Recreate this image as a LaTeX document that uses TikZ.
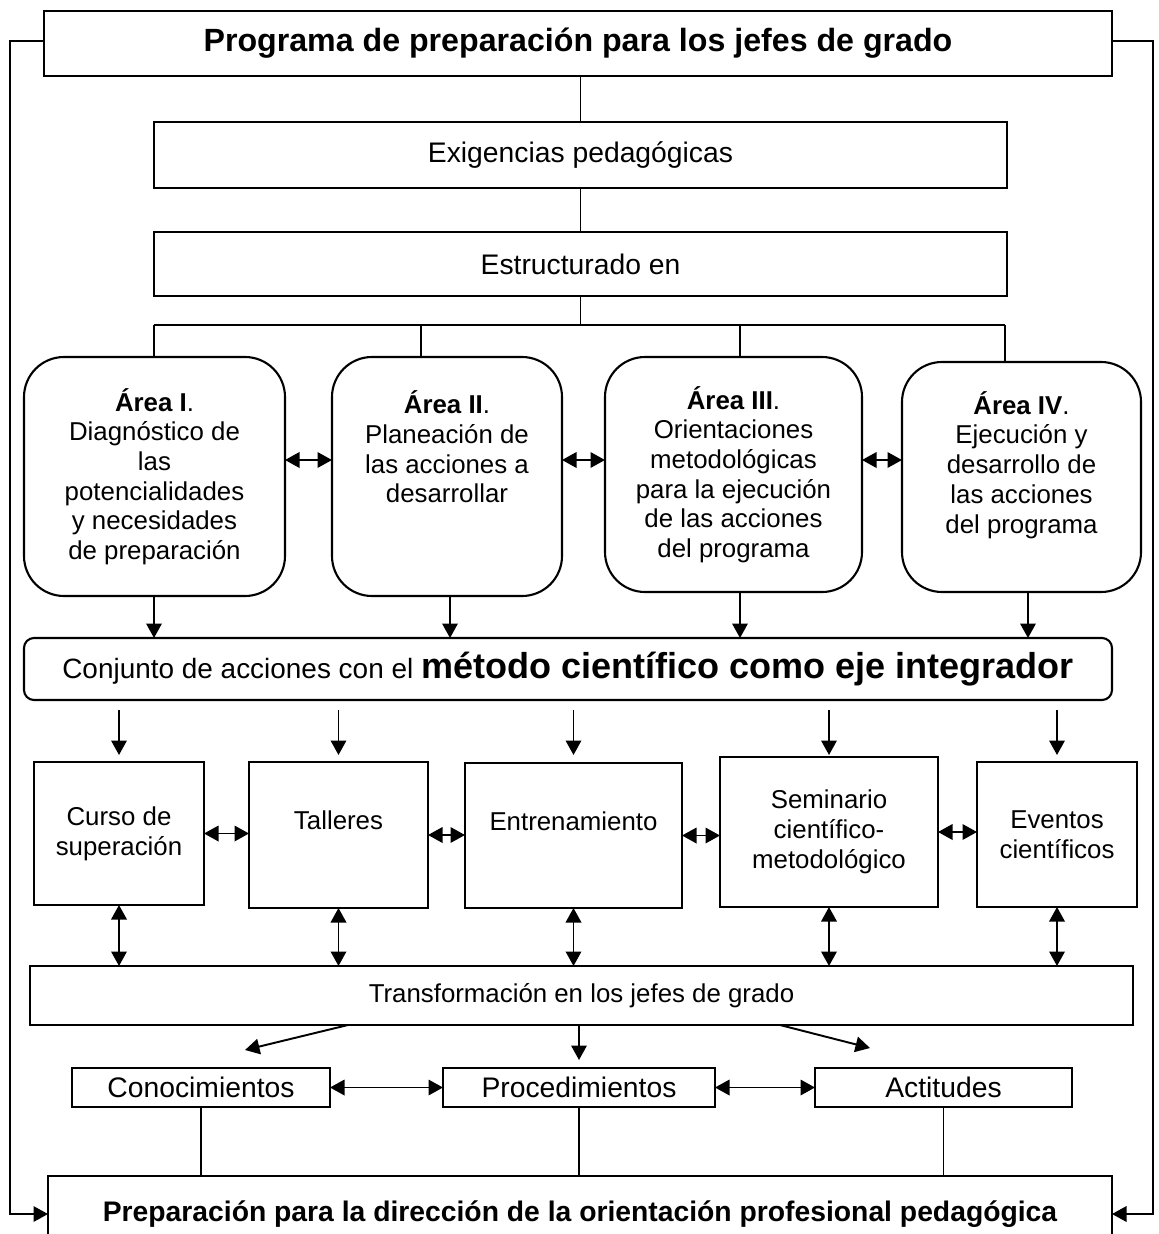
\documentclass[tikz,border=0pt]{standalone}
\usepackage{fontspec}
\setmainfont{Liberation Sans}
\usepackage{tikz}
\usetikzlibrary{arrows.meta,positioning}

\newcommand{\txtA}{\fontsize{14.7}{16.9}\selectfont}
\newcommand{\txtB}{\fontsize{16.1}{18.5}\selectfont}

\begin{document}
\begin{tikzpicture}[
  box/.style={draw, line width=1.2pt, align=center, inner sep=0pt, outer sep=0pt},
  area/.style={box, rounded corners=0.8cm, font=\txtA},
  act/.style={box, font=\txtA},
  arr/.style={-{Triangle[length=2.9mm,width=3.1mm]}, line width=1.1pt},
  darr/.style={{Triangle[length=2.9mm,width=3.1mm]}-{Triangle[length=2.9mm,width=3.1mm]}, line width=1.1pt},
  ln/.style={line width=1.1pt}
]
\useasboundingbox (0,0) rectangle (23.18,-24.68);
\clip (0,0) rectangle (23.18,-24.68);

% top of the scheme
\node[box, minimum width=21.36cm, minimum height=1.30cm, font=\fontsize{18.3}{21}\selectfont\bfseries] (prog) at (11.56,-0.87) {Programa de preparación para los jefes de grado};
\node[box, minimum width=17.06cm, minimum height=1.32cm, font=\txtB] (exig) at (11.61,-3.10) {Exigencias pedagógicas};
\node[box, minimum width=17.06cm, minimum height=1.28cm, font=\txtB] (estr) at (11.61,-5.28) {Estructurado en};
\draw[ln] (prog.south -| exig.north) -- (exig.north);
\draw[ln] (exig) -- (estr);

% areas
\node[area, minimum width=5.22cm, minimum height=4.78cm] (a1) at (3.09,-9.53) {\textbf{Área I}.\\Diagnóstico de\\las\\potencialidades\\y necesidades\\de preparación};
\node[area, minimum width=4.60cm, minimum height=4.78cm] (a2) at (8.94,-9.53) {\textbf{Área II}.\\Planeación de\\las acciones a\\desarrollar\\~\\~};
\node[area, minimum width=5.14cm, minimum height=4.70cm] (a3) at (14.67,-9.49) {\textbf{Área III}.\\Orientaciones\\metodológicas\\para la ejecución\\de las acciones\\del programa};
\node[area, minimum width=4.78cm, minimum height=4.60cm] (a4) at (20.43,-9.54) {\textbf{Área IV}.\\Ejecución y\\desarrollo de\\las acciones\\del programa\\~};

\coordinate (busL) at (3.08,-6.50);
\coordinate (busR) at (20.10,-6.50);
\draw[ln] (estr.south) -- (estr.south |- busL);
\draw[ln] (busL) -- (busR);
\foreach \x/\a in {3.08/a1, 8.42/a2, 14.80/a3, 20.10/a4}
  \draw[ln] (\x,-6.50) -- (\x,-6.50 |- \a.north);

\draw[darr] ([yshift=0.33cm]a1.east) -- ([yshift=0.33cm]a1.east -| a2.west);
\draw[darr] ([yshift=0.33cm]a2.east) -- ([yshift=0.33cm]a2.east -| a3.west);
\draw[darr] ([yshift=0.29cm]a3.east) -- ([yshift=0.29cm]a3.east -| a4.west);

% actions
\node[box, rounded corners=0.2cm, minimum width=21.76cm, minimum height=1.24cm] (conj) at (11.36,-13.38) {\fontsize{15.9}{18}\selectfont Conjunto de acciones con el \fontsize{20.5}{23}\selectfont\bfseries método científico como eje integrador};
\foreach \x/\a in {3.08/a1, 9.00/a2, 14.80/a3, 20.56/a4}
  \draw[arr] (\x,0 |- \a.south) -- (\x,0 |- conj.north);

\node[act, minimum width=3.40cm, minimum height=2.86cm] (c1) at (2.38,-16.67) {Curso de\\superación};
\node[act, minimum width=3.58cm, minimum height=2.92cm] (c2) at (6.77,-16.70) {Talleres\\~};
\node[act, minimum width=4.34cm, minimum height=2.90cm] (c3) at (11.47,-16.71) {Entrenamiento\\~};
\node[act, minimum width=4.36cm, minimum height=3.00cm] (c4) at (16.58,-16.64) {Seminario\\científico-\\metodológico};
\node[act, minimum width=3.20cm, minimum height=2.90cm] (c5) at (21.14,-16.69) {Eventos\\científicos};

\foreach \c in {c1,c2,c3,c4,c5}
  \draw[arr, shorten <=0.2cm, shorten >=0.16cm] (\c.north |- conj.south) -- (\c.north |- c3.north);
\draw[darr] (c1.east) -- (c1.east -| c2.west);
\draw[darr] (c2.east) -- (c2.east -| c3.west);
\draw[darr] (c3.east) -- (c3.east -| c4.west);
\draw[darr] (c4.east) -- (c4.east -| c5.west);

% transformation
\node[act, minimum width=22.06cm, minimum height=1.18cm] (transf) at (11.63,-19.91) {Transformación en los jefes de grado};
\foreach \c in {c1,c2,c3,c4,c5}
  \draw[darr] (\c.south) -- (\c.south |- transf.north);

\node[box, minimum width=5.16cm, minimum height=0.78cm, font=\txtB] (k1) at (4.02,-21.75) {Conocimientos};
\node[box, minimum width=5.44cm, minimum height=0.78cm, font=\txtB] (k2) at (11.58,-21.75) {Procedimientos};
\node[box, minimum width=5.14cm, minimum height=0.78cm, font=\txtB] (k3) at (18.87,-21.75) {Actitudes};

\coordinate (t1) at (6.96,-20.50);
\coordinate (e1) at (4.90,-21.00);
\coordinate (t3) at (15.60,-20.50);
\coordinate (e3) at (17.40,-20.96);
\draw[arr] (t1) -- (e1);
\draw[arr, shorten >=0.16cm] (transf.south -| k2.north) -- (k2.north);
\draw[arr] (t3) -- (e3);
\draw[darr] (k1.east) -- (k2.west);
\draw[darr] (k2.east) -- (k3.west);

% result
\node[box, minimum width=21.28cm, minimum height=1.52cm, font=\fontsize{16.1}{18.5}\selectfont\bfseries] (fin) at (11.60,-24.28) {Preparación para la dirección de la orientación profesional pedagógica};
\foreach \k in {k1,k2,k3}
  \draw[ln] (\k.south) -- (\k.south |- fin.north);

% feedback lines
\coordinate (lft) at (0.20,-0.82);
\coordinate (rgt) at (23.06,-0.82);
\draw[arr] (prog.west |- lft) -- (lft) |- (fin.west);
\draw[arr] (prog.east |- rgt) -- (rgt) |- (fin.east);
\end{tikzpicture}
\end{document}
